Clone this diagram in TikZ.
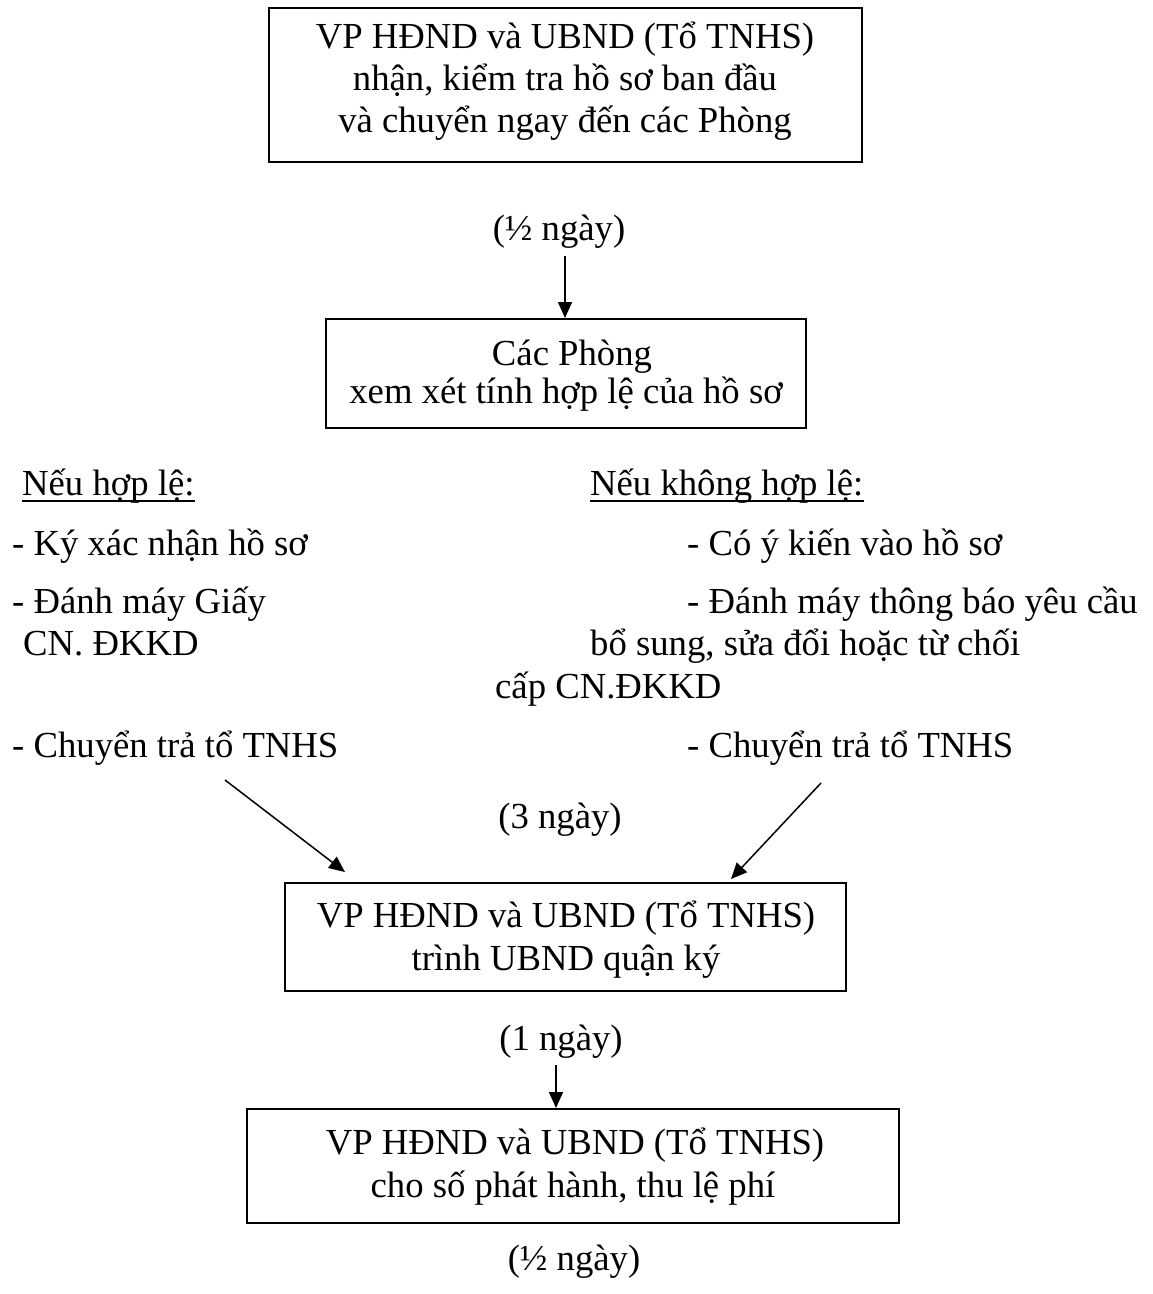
\documentclass[tikz,border=0pt]{standalone}
\usepackage{fontspec}
\setmainfont{Liberation Serif}
\usetikzlibrary{arrows.meta}
\newcommand{\fsz}{\fontsize{36.7}{42}\selectfont}
\tikzset{
  x=1pt, y=-1pt,
  boxnode/.style={draw, line width=2pt, inner sep=0pt},
  ln/.style={inner sep=0pt, anchor=base, font=\fsz},
  lnw/.style={inner sep=0pt, anchor=base west, font=\fsz},
  arr/.style={line width=1.5pt, -{Triangle[length=16pt,width=14pt]}},
  uline/.style={line width=1.6pt},
}
\begin{document}
\begin{tikzpicture}
\useasboundingbox (0,0) rectangle (1153,1294);

% Box 1
\node[boxnode, minimum width=593pt, minimum height=154pt] (box1) at (565.5,85) {};
\node[ln] (b1a) at (565,48) {VP HĐND và UBND (Tổ TNHS)};
\node[ln] (b1b) at (565,90) {nhận, kiểm tra hồ sơ ban đầu};
\node[ln] (b1c) at (565,132) {và chuyển ngay đến các Phòng};

% (1/2 ngay)
\node[ln] (t1) at (559,240) {(½ ngày)};

% Box 2
\node[boxnode, minimum width=480pt, minimum height=109pt] (box2) at (566,373.5) {};
\node[ln] (b2a) at (572,365) {Các Phòng};
\node[ln] (b2b) at (566,403) {xem xét tính hợp lệ của hồ sơ};

\coordinate (a1s) at (565,256);
\draw[arr] (a1s) -- (a1s |- box2.north);

% Left column
\node[lnw] (l0) at (22,495) {Nếu hợp lệ:};
\draw[uline] ([yshift=-6pt]l0.base west) -- ([yshift=-6pt]l0.base east);
\node[lnw] (l1) at (12,555) {- Ký xác nhận hồ sơ};
\node[lnw] (l2) at (12,613) {- Đánh máy Giấy};
\node[lnw] (l3) at (23,655) {CN. ĐKKD};
\node[lnw] (l4) at (12,757) {- Chuyển trả tổ TNHS};

% Right column
\node[lnw] (r0) at (590,495) {Nếu không hợp lệ:};
\draw[uline] ([yshift=-6pt]r0.base west) -- ([yshift=-6pt]r0.base east);
\node[lnw] (r1) at (687,555) {- Có ý kiến vào hồ sơ};
\node[lnw] (r2) at (687,613) {- Đánh máy thông báo yêu cầu};
\node[lnw] (r3) at (590,655) {bổ sung, sửa đổi hoặc từ chối};
\node[lnw] (r4) at (495,698) {cấp CN.ĐKKD};
\node[lnw] (r5) at (687,757) {- Chuyển trả tổ TNHS};

% (3 ngay)
\node[ln] (t3) at (560,828) {(3 ngày)};

% Box 3
\node[boxnode, minimum width=561pt, minimum height=108pt] (box3) at (565.5,937) {};
\node[ln] (b3a) at (566,927) {VP HĐND và UBND (Tổ TNHS)};
\node[ln] (b3b) at (566,970) {trình UBND quận ký};

\coordinate (sL) at (225,780);
\coordinate (eL) at (345,872);
\coordinate (sR) at (821,783);
\coordinate (eR) at (731,879);
\draw[arr] (sL) -- (eL);
\draw[arr] (sR) -- (eR);

% (1 ngay)
\node[ln] (t4) at (561,1050) {(1 ngày)};

% Box 4
\node[boxnode, minimum width=652pt, minimum height=114pt] (box4) at (573,1166) {};
\node[ln] (b4a) at (575,1154) {VP HĐND và UBND (Tổ TNHS)};
\node[ln] (b4b) at (573,1197) {cho số phát hành, thu lệ phí};

\coordinate (a2s) at (556,1065);
\draw[arr] (a2s) -- (a2s |- box4.north);

% (1/2 ngay)
\node[ln] (t5) at (574,1270) {(½ ngày)};
\end{tikzpicture}
\end{document}
